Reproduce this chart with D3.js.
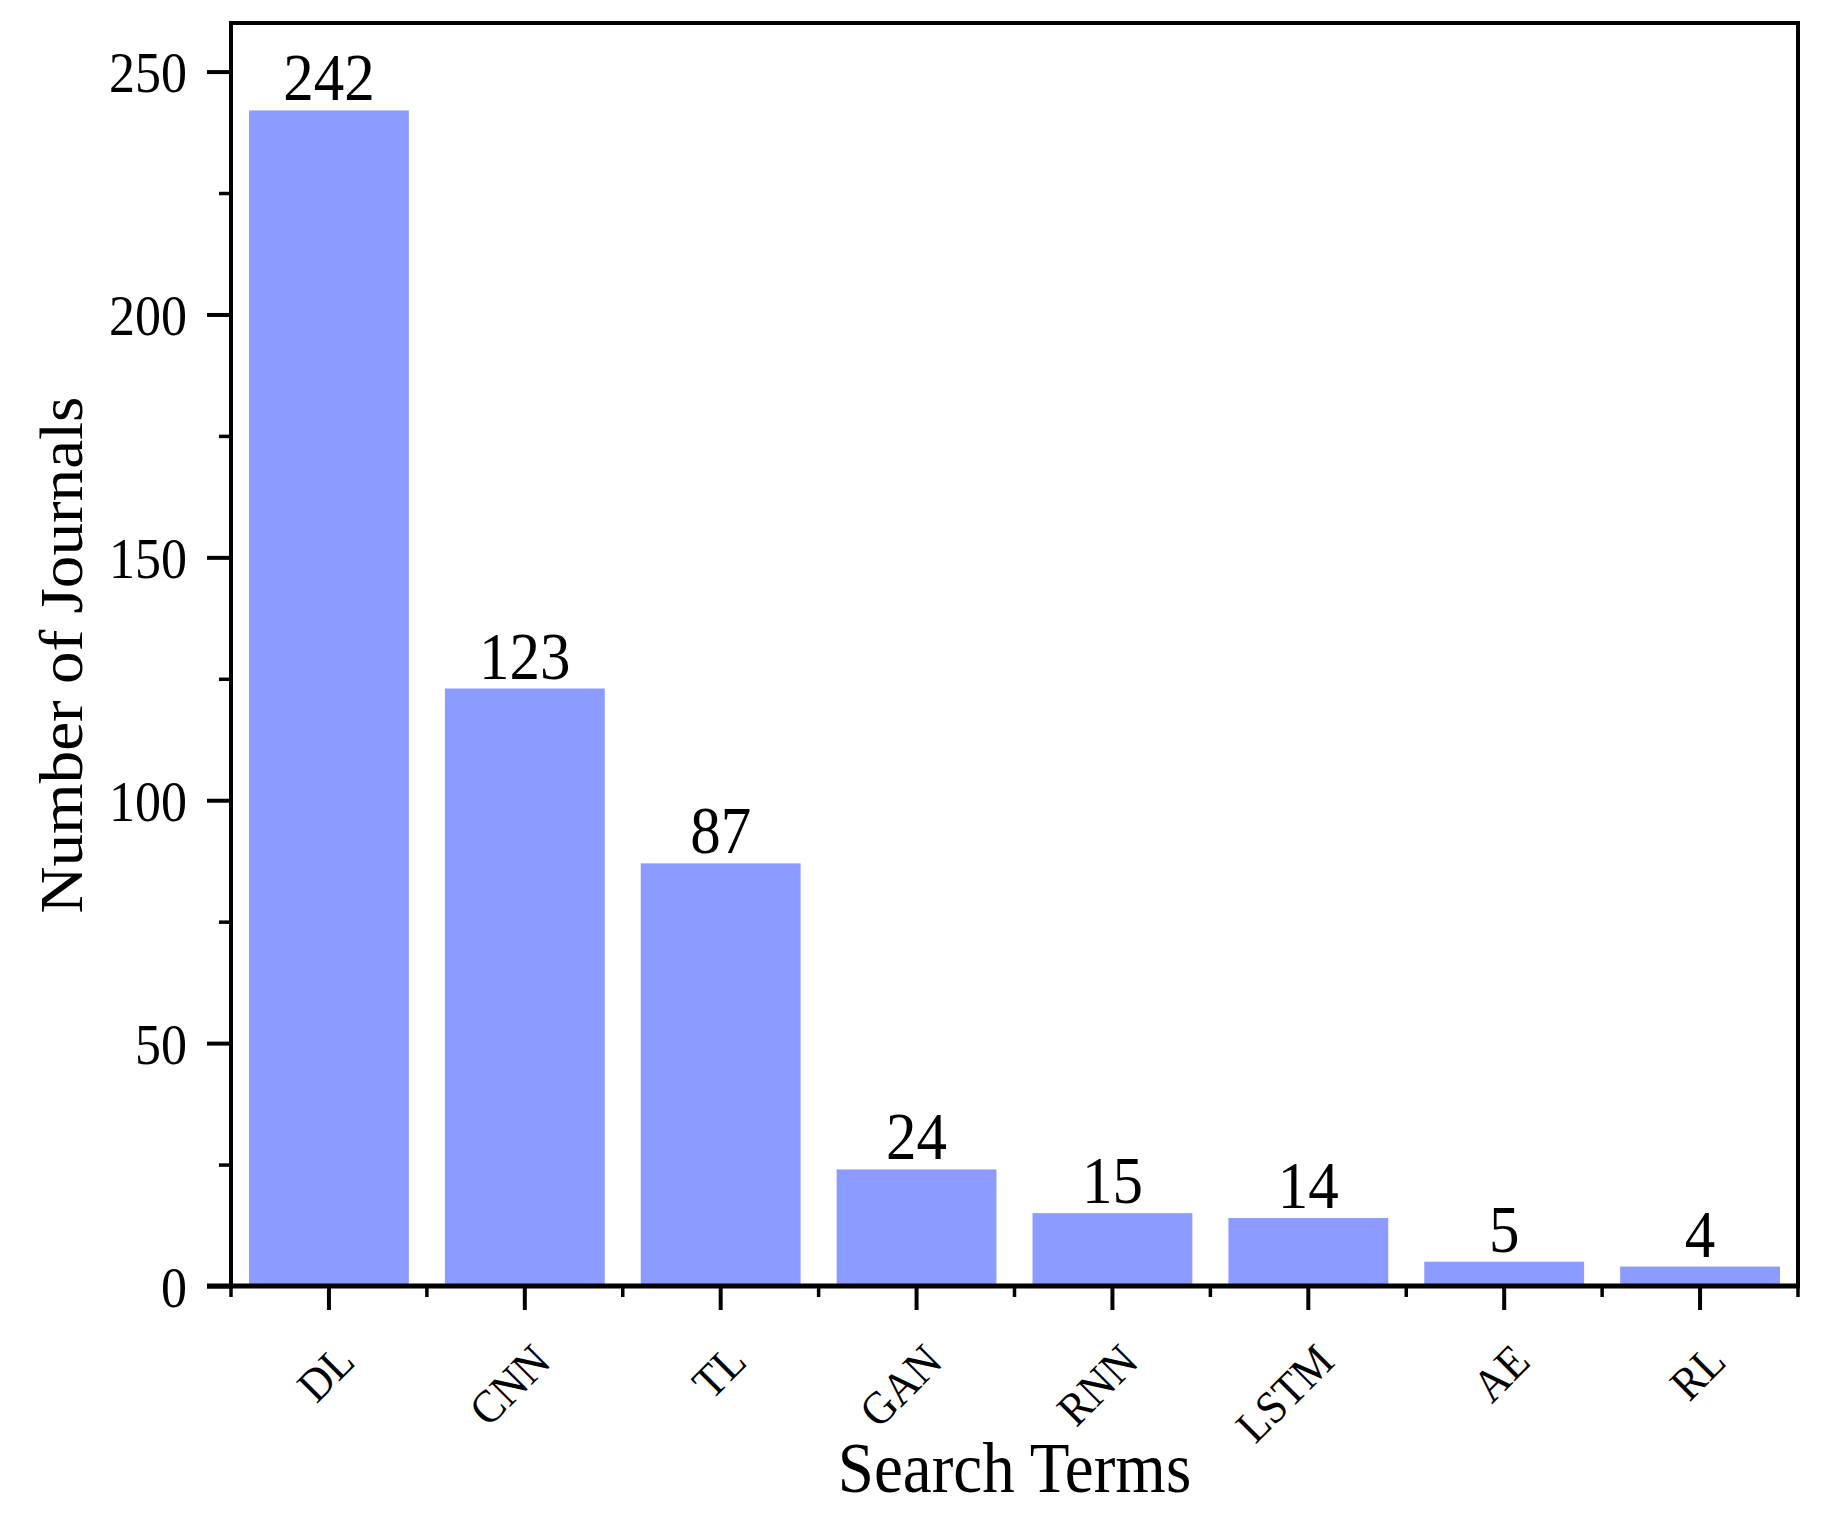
<!DOCTYPE html>
<html>
<head>
<meta charset="utf-8">
<script src="https://cdn.jsdelivr.net/npm/d3@7"></script>
<style>
  html, body { margin: 0; padding: 0; background: #fff; }
  svg { display: block; }
  text { font-family: "Liberation Serif", "Times New Roman", serif; fill: #000; }
</style>
</head>
<body>
<svg id="chart" width="1822" height="1513"></svg>
<script>
const categories = ["DL", "CNN", "TL", "GAN", "RNN", "LSTM", "AE", "RL"];
const values = [242, 123, 87, 24, 15, 14, 5, 4];
const yTicks = [0, 50, 100, 150, 200, 250];
const yMinorTicks = [25, 75, 125, 175, 225];
const xTitle = "Search Terms";
const yTitle = "Number of Journals";

const W = 1822, H = 1513;
const margin = { left: 231, right: W - 1798, top: 23, bottom: H - 1286 };
const svg = d3.select("#chart");
const SY = 1.1; // vertical glyph stretch seen in reference

const x = d3.scaleBand().domain(categories)
  .range([margin.left, W - margin.right]).paddingInner(0.184).paddingOuter(0.092);
const xOuter = d3.scaleBand().domain(categories)
  .range([margin.left, W - margin.right]).padding(0);
const y = d3.scaleLinear().domain([0, 260]).range([H - margin.bottom, margin.top]);

// bars
svg.append("g").selectAll("rect").data(values).join("rect")
  .attr("x", (d, i) => x(categories[i]))
  .attr("width", x.bandwidth())
  .attr("y", d => y(d))
  .attr("height", d => y(0) - y(d))
  .attr("fill", "#8c9bff");

// value labels
svg.append("g").selectAll("text").data(values).join("text")
  .attr("transform", (d, i) => `translate(${x(categories[i]) + x.bandwidth() / 2},${y(d) - 10}) scale(1,${SY})`)
  .attr("text-anchor", "middle")
  .attr("font-size", 61)
  .text(d => d);

// frame
const x0 = margin.left, x1 = W - margin.right, y0 = margin.top, y1 = H - margin.bottom;
svg.append("rect").attr("x", x0).attr("y", y0).attr("width", x1 - x0).attr("height", y1 - y0)
  .attr("fill", "none").attr("stroke", "#000").attr("stroke-width", 4);

// y axis
const yAxis = d3.axisLeft(y).tickValues(yTicks).tickSize(24).tickPadding(20).tickFormat("");
const gy = svg.append("g").attr("transform", `translate(${x0},0)`).call(yAxis);
gy.select(".domain").remove();
gy.selectAll(".tick line").attr("stroke", "#000").attr("stroke-width", 4);
svg.append("g").selectAll("text").data(yTicks).join("text")
  .attr("transform", d => `translate(${x0 - 44},${y(d)}) scale(1,${SY})`)
  .attr("text-anchor", "end")
  .attr("dy", "0.36em")
  .attr("font-size", 52)
  .text(d3.format("d"));
const yMinor = d3.axisLeft(y).tickValues(yMinorTicks).tickSize(12).tickFormat("");
const gym = svg.append("g").attr("transform", `translate(${x0},0)`).call(yMinor);
gym.select(".domain").remove();
gym.selectAll(".tick line").attr("stroke", "#000").attr("stroke-width", 3.5);

// x axis (major ticks at bar centers)
const xAxis = d3.axisBottom(x).tickSize(24).tickFormat("");
const gx = svg.append("g").attr("transform", `translate(0,${y1})`).call(xAxis);
gx.select(".domain").remove();
gx.selectAll(".tick line").attr("stroke", "#000").attr("stroke-width", 4);

// x minor ticks at band boundaries
const boundaries = categories.map(c => xOuter(c)).concat([x1]);
svg.append("g").selectAll("line").data(boundaries).join("line")
  .attr("x1", d => d).attr("x2", d => d)
  .attr("y1", y1).attr("y2", y1 + 11)
  .attr("stroke", "#000").attr("stroke-width", 3.5);

// bottom axis line (thicker)
svg.append("line").attr("x1", x0 - 24).attr("x2", x1 + 2).attr("y1", y1).attr("y2", y1)
  .attr("stroke", "#000").attr("stroke-width", 5);

// x tick labels rotated
svg.append("g").selectAll("text").data(categories).join("text")
  .attr("transform", d => `translate(${x(d) + x.bandwidth() / 2 + 28},${y1 + 78}) rotate(-45) scale(1,1.08)`)
  .attr("text-anchor", "end")
  .attr("font-size", 43)
  .text(d => d);

// axis titles
svg.append("text")
  .attr("transform", `translate(${(x0 + x1) / 2},1492) scale(1,${SY})`)
  .attr("text-anchor", "middle").attr("font-size", 65)
  .text(xTitle);

svg.append("text")
  .attr("transform", `translate(82,655) rotate(-90) scale(1.05,1)`)
  .attr("text-anchor", "middle").attr("font-size", 62)
  .text(yTitle);
</script>
</body>
</html>
